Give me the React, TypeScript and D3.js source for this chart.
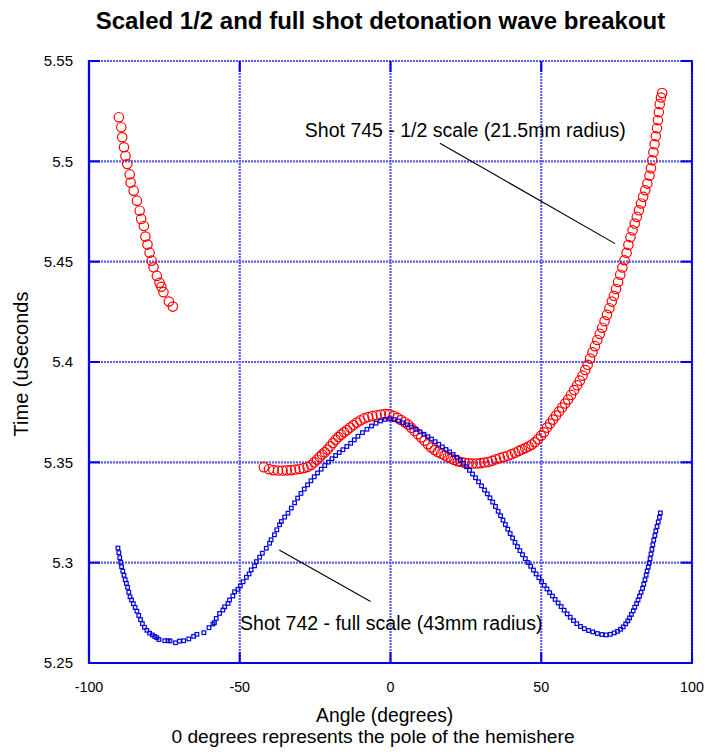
import React from 'react';
import * as d3 from 'd3';

// Shot 742 - full scale (blue squares)
const blueAngle = [
  -90.4, -90.1, -89.8, -89.5, -89.2, -88.8, -88.4, -88.0, -87.6, -87.2, -86.8, -86.4, -85.9, -85.3, -84.7, -84.1,
  -83.5, -82.9, -82.3, -81.6, -80.8, -79.9, -79.0, -78.2, -77.5, -76.8, -74.9, -73.8, -73.1, -71.3, -70.0, -68.6,
  -66.9, -65.3, -64.2, -61.9, -60.2, -58.9, -58.4, -57.8, -56.7, -55.6, -55.0, -53.9, -53.4, -52.3, -51.7, -50.6,
  -49.8, -48.9, -47.8, -46.9, -46.2, -45.1, -44.5, -43.4, -42.5, -41.2, -40.1, -39.6, -38.5, -37.7, -36.8, -36.2,
  -35.1, -34.0, -32.9, -31.8, -30.8, -29.7, -28.6, -27.5, -26.4, -25.3, -24.2, -23.0, -21.8, -20.6, -19.4, -18.2,
  -17.0, -15.8, -14.5, -13.2, -12.0, -10.8, -9.3, -7.8, -6.3, -4.8, -3.3, -1.8, -0.3,
  1.2, 2.7, 4.2, 5.6, 7.0, 8.4, 9.8, 11.1, 12.4, 13.6, 14.8, 16.0, 17.2, 18.4, 19.6, 20.8,
  22.0, 23.1, 24.2, 25.2, 26.2, 27.2, 28.2, 29.2, 30.2, 31.2, 32.1, 33.0, 33.9, 34.8, 35.7, 36.5,
  37.3, 38.1, 38.9, 39.7, 40.5, 41.3, 42.1, 42.9, 43.8, 44.7, 45.6, 46.5, 47.4, 48.3, 49.2, 50.1,
  51.0, 51.9, 52.8, 53.7, 54.6, 55.6, 56.6, 57.6, 58.6, 59.6, 60.7, 61.8, 63.0, 64.3, 65.7, 67.1,
  68.6, 70.1, 71.5, 72.9, 74.2, 75.3, 76.3, 77.2, 78.0, 78.7, 79.3, 79.9, 80.5, 81.0, 81.6, 82.1,
  82.6, 83.1, 83.6, 84.0, 84.4, 84.8, 85.1, 85.5, 85.8, 86.1, 86.4, 86.7, 87.0, 87.3, 87.7, 88.0,
  88.4, 88.8, 89.2, 89.5,
];
const blueTime = [
  5.3073, 5.3050, 5.3025, 5.3002, 5.2980, 5.2958, 5.2937, 5.2915, 5.2897, 5.2877, 5.2853, 5.2830, 5.2814, 5.2796, 5.2777, 5.2758,
  5.2737, 5.2716, 5.2696, 5.2678, 5.2663, 5.2649, 5.2640, 5.2632, 5.2626, 5.2617, 5.2611, 5.2611, 5.2610, 5.2601, 5.2609, 5.2611,
  5.2620, 5.2633, 5.2643, 5.2651, 5.2676, 5.2694, 5.2701, 5.2722, 5.2747, 5.2764, 5.2780, 5.2797, 5.2814, 5.2834, 5.2855, 5.2867,
  5.2884, 5.2905, 5.2927, 5.2944, 5.2964, 5.2984, 5.3005, 5.3027, 5.3047, 5.3072, 5.3097, 5.3114, 5.3139, 5.3164, 5.3189, 5.3205,
  5.3227, 5.3247, 5.3272, 5.3298, 5.3322, 5.3345, 5.3367, 5.3388, 5.3408, 5.3428, 5.3447, 5.3466, 5.3484, 5.3501, 5.3518, 5.3534,
  5.3549, 5.3563, 5.3579, 5.3595, 5.3612, 5.3630, 5.3648, 5.3665, 5.3681, 5.3695, 5.3706, 5.3714, 5.3717,
  5.3713, 5.3706, 5.3697, 5.3687, 5.3676, 5.3664, 5.3652, 5.3640, 5.3628, 5.3616, 5.3603, 5.3590, 5.3577, 5.3564, 5.3552, 5.3539,
  5.3525, 5.3510, 5.3495, 5.3478, 5.3460, 5.3442, 5.3423, 5.3403, 5.3383, 5.3362, 5.3343, 5.3323, 5.3302, 5.3280, 5.3256, 5.3234,
  5.3212, 5.3190, 5.3167, 5.3145, 5.3123, 5.3101, 5.3080, 5.3060, 5.3040, 5.3020, 5.3001, 5.2982, 5.2963, 5.2944, 5.2925, 5.2906,
  5.2887, 5.2869, 5.2851, 5.2834, 5.2817, 5.2799, 5.2781, 5.2763, 5.2745, 5.2728, 5.2711, 5.2696, 5.2682, 5.2671, 5.2662, 5.2655,
  5.2647, 5.2642, 5.2640, 5.2643, 5.2650, 5.2658, 5.2668, 5.2680, 5.2695, 5.2710, 5.2725, 5.2742, 5.2760, 5.2778, 5.2796, 5.2814,
  5.2833, 5.2852, 5.2872, 5.2893, 5.2915, 5.2938, 5.2958, 5.2978, 5.2998, 5.3020, 5.3043, 5.3066, 5.3089, 5.3112, 5.3135, 5.3158,
  5.3180, 5.3203, 5.3226, 5.3248,
];

// Shot 745 - 1/2 scale (red circles)
const redAngle = [
  -90.1, -89.3, -89.0, -88.4, -87.9, -87.3, -86.5, -86.2, -85.2, -84.1, -83.2, -82.7, -81.8, -81.3, -80.6, -79.9,
  -79.2, -78.6, -77.5, -76.6, -76.0, -75.3, -73.5, -72.2,
  -42.0, -40.3, -38.8, -37.3, -35.8, -34.4, -33.0, -31.6, -30.2, -28.8, -27.5, -26.3, -25.3, -24.4, -23.5, -22.7,
  -21.8, -20.9, -20.0, -19.1, -18.2, -17.3, -16.4, -15.4, -14.4, -13.4, -12.3, -11.2, -10.0, -8.7, -7.4, -6.0,
  -4.6, -3.2, -1.8, -0.4, 1.0, 2.3, 3.5, 4.7, 5.8, 6.9, 8.0, 9.1, 10.2, 11.3, 12.4, 13.5,
  14.6, 15.7, 16.8, 17.9, 19.0, 20.1, 21.2, 22.3, 23.4, 24.6, 25.9, 27.2, 28.5, 29.8, 31.1, 32.4,
  33.7, 35.0, 36.3, 37.6, 38.9, 40.1, 41.3, 42.5, 43.6, 44.7, 45.8,
  46.8, 47.9, 48.9, 49.9, 50.9, 51.9, 52.9, 53.9, 54.9, 55.9, 56.9, 57.9, 58.9, 59.9, 60.9, 61.9,
  62.8, 63.7, 64.6, 65.4, 66.2, 67.0, 67.8, 68.6, 69.4, 70.2, 71.0, 71.8, 72.6, 73.4, 74.1, 74.8,
  75.5, 76.2, 76.9, 77.6, 78.3, 78.9, 79.6, 80.3, 81.0, 81.7, 82.4, 83.1, 83.8, 84.5, 85.2, 85.9,
  86.4, 86.8, 87.2, 87.6, 88.0, 88.4, 88.7, 89.0, 89.3, 89.7, 90.1,
];
const redTime = [
  5.5220, 5.5170, 5.5120, 5.5070, 5.5027, 5.4987, 5.4935, 5.4894, 5.4854, 5.4804, 5.4754, 5.4713, 5.4678, 5.4625, 5.4585, 5.4545,
  5.4505, 5.4472, 5.4429, 5.4395, 5.4375, 5.4348, 5.4301, 5.4276,
  5.3476, 5.3466, 5.3461, 5.3459, 5.3459, 5.3460, 5.3461, 5.3464, 5.3467, 5.3471, 5.3477, 5.3487, 5.3500, 5.3513, 5.3527, 5.3539,
  5.3550, 5.3564, 5.3580, 5.3596, 5.3612, 5.3626, 5.3638, 5.3650, 5.3661, 5.3673, 5.3686, 5.3698, 5.3709, 5.3719, 5.3726, 5.3731,
  5.3735, 5.3738, 5.3740, 5.3740, 5.3732, 5.3722, 5.3711, 5.3700, 5.3688, 5.3672, 5.3656, 5.3640, 5.3624, 5.3608, 5.3590, 5.3574,
  5.3561, 5.3551, 5.3543, 5.3535, 5.3527, 5.3519, 5.3512, 5.3506, 5.3502, 5.3498, 5.3495, 5.3494, 5.3494, 5.3496, 5.3499, 5.3502,
  5.3508, 5.3515, 5.3521, 5.3527, 5.3533, 5.3540, 5.3548, 5.3556, 5.3564, 5.3571, 5.3579,
  5.3588, 5.3600, 5.3615, 5.3632, 5.3650, 5.3673, 5.3693, 5.3713, 5.3733, 5.3753, 5.3773, 5.3793, 5.3813, 5.3836, 5.3860, 5.3884,
  5.3907, 5.3932, 5.3960, 5.3986, 5.4017, 5.4048, 5.4079, 5.4110, 5.4140, 5.4171, 5.4203, 5.4235, 5.4268, 5.4301, 5.4330, 5.4364,
  5.4399, 5.4435, 5.4471, 5.4507, 5.4544, 5.4583, 5.4622, 5.4656, 5.4690, 5.4723, 5.4756, 5.4790, 5.4823, 5.4856, 5.4889, 5.4929,
  5.4965, 5.5005, 5.5045, 5.5085, 5.5125, 5.5165, 5.5205, 5.5245, 5.5285, 5.5318, 5.5340,
];

const xTicks = [-100, -50, 0, 50, 100];
const xTickLabels = ['-100', '-50', '0', '50', '100'];
const yTicks = [5.25, 5.3, 5.35, 5.4, 5.45, 5.5, 5.55];
const yTickLabels = ['5.25', '5.3', '5.35', '5.4', '5.45', '5.5', '5.55'];

const titleText = 'Scaled 1/2 and full shot detonation wave breakout';
const xTitle = 'Angle (degrees)';
const xSubtitle = '0 degrees represents the pole of the hemishere';
const yTitle = 'Time (uSeconds';

// annotations in data coordinates: [angle, time]
const note745Text = 'Shot 745 - 1/2 scale (21.5mm radius)';
const note745At = [-28.4, 5.5123];
const note745Line = [[16.4, 5.509], [74.5, 5.459]];
const note742Text = 'Shot 742 - full scale (43mm radius)';
const note742At = [-49.9, 5.2665];
const note742Line = [[-36.9, 5.3063], [-6.6, 5.2806]];

const FONT = "'Liberation Sans', Arial, Helvetica, sans-serif";

export default function App() {
  const W = 708;
  const H = 754;
  const x = d3.scaleLinear().domain([-100, 100]).range([89, 692]);
  const y = d3.scaleLinear().domain([5.25, 5.55]).range([663, 61]);
  const [x0, x1] = x.range();
  const [y0, y1] = y.range();
  const gridColor = '#5c5ce8';
  const frameColor = '#0000ee';
  const tickLen = 11;
  const sq = 3.6;

  return (
    <svg width={W} height={H} style={{ position: 'absolute', left: 0, top: 0, background: '#fff' }} fontFamily={FONT}>
      <rect x={0} y={0} width={W} height={H} fill="#fff" />
      {/* grid */}
      {xTicks.map((t) => (
        <line key={'gx' + t} x1={x(t)} x2={x(t)} y1={y1} y2={y0} stroke={gridColor} strokeWidth={2.2} strokeDasharray="2 1" />
      ))}
      {yTicks.map((t) => (
        <line key={'gy' + t} x1={x0} x2={x1} y1={y(t)} y2={y(t)} stroke={gridColor} strokeWidth={2.2} strokeDasharray="2 1" />
      ))}
      {/* frame */}
      <line x1={x0} x2={x0} y1={y1 - 1} y2={y0 + 1} stroke={frameColor} strokeWidth={2.2} />
      <line x1={x0 - 1} x2={x1 + 1} y1={y0} y2={y0} stroke={frameColor} strokeWidth={2.2} />
      <line x1={x1} x2={x1} y1={y1 - 1} y2={y0 + 1} stroke={frameColor} strokeWidth={1.8} />
      {/* ticks */}
      {yTicks.map((t) => (
        <g key={'ty' + t}>
          <line x1={x0} x2={x0 + tickLen} y1={y(t)} y2={y(t)} stroke={frameColor} strokeWidth={2} />
          <line x1={x1 - tickLen} x2={x1} y1={y(t)} y2={y(t)} stroke={frameColor} strokeWidth={2} />
        </g>
      ))}
      {xTicks.map((t) => (
        <g key={'tx' + t}>
          <line x1={x(t)} x2={x(t)} y1={y0} y2={y0 - tickLen} stroke={frameColor} strokeWidth={2} />
          <line x1={x(t)} x2={x(t)} y1={y1} y2={y1 + tickLen} stroke={frameColor} strokeWidth={2} />
        </g>
      ))}
      {/* tick labels */}
      {yTicks.map((t, i) => (
        <text key={'ly' + t} x={73} y={y(t) + 5.3} textAnchor="end" fontSize={15} fill="#000">
          {yTickLabels[i]}
        </text>
      ))}
      {xTicks.map((t, i) => (
        <text key={'lx' + t} x={x(t)} y={691.7} textAnchor="middle" fontSize={14.3} fill="#000">
          {xTickLabels[i]}
        </text>
      ))}
      {/* red circles */}
      {redAngle.map((a, i) => (
        <circle key={'r' + i} cx={x(a)} cy={y(redTime[i])} r={4.7} fill="none" stroke="#ff0000" strokeWidth={1.2} />
      ))}
      {/* blue squares */}
      {blueAngle.map((a, i) => (
        <rect key={'b' + i} x={x(a) - sq / 2} y={y(blueTime[i]) - sq / 2} width={sq} height={sq} fill="none" stroke="#0000dd" strokeWidth={1.2} />
      ))}
      {/* annotations */}
      <line x1={x(note745Line[0][0])} y1={y(note745Line[0][1])} x2={x(note745Line[1][0])} y2={y(note745Line[1][1])} stroke="#000" strokeWidth={1.1} />
      <text x={x(note745At[0])} y={y(note745At[1])} fontSize={19.5} fill="#000">{note745Text}</text>
      <line x1={x(note742Line[0][0])} y1={y(note742Line[0][1])} x2={x(note742Line[1][0])} y2={y(note742Line[1][1])} stroke="#000" strokeWidth={1.1} />
      <text x={x(note742At[0])} y={y(note742At[1])} fontSize={19.5} fill="#000">{note742Text}</text>
      {/* titles */}
      <text x={380.5} y={29} textAnchor="middle" fontSize={24} fontWeight="bold" fill="#000">{titleText}</text>
      <text x={384.7} y={721.7} textAnchor="middle" fontSize={19.3} fill="#000">{xTitle}</text>
      <text x={373} y={743} textAnchor="middle" fontSize={19.2} fill="#000">{xSubtitle}</text>
      <text transform="translate(28,364) rotate(-90)" textAnchor="middle" fontSize={20} fill="#000">{yTitle}</text>
    </svg>
  );
}
